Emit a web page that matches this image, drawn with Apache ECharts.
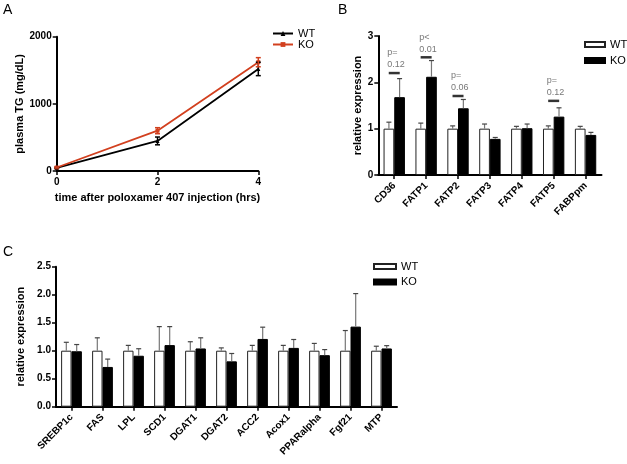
<!DOCTYPE html>
<html><head><meta charset="utf-8">
<script src="https://cdn.jsdelivr.net/npm/echarts@6/dist/echarts.min.js"></script>
<style>html,body{margin:0;padding:0;background:#fff}#c{width:627px;height:464px}</style>
</head><body><div id="c"></div>
<script>
// ---- Panel A data ----
const timeHours = [0, 2, 4];
const tgWT = [45, 448, 1520];
const tgWTErr = [8, 58, 100];
const tgKO = [52, 600, 1620];
const tgKOErr = [8, 45, 68];

// ---- Panel B data ----
const genesB = ['CD36', 'FATP1', 'FATP2', 'FATP3', 'FATP4', 'FATP5', 'FABPpm'];
const bWT = [1, 1, 1, 1, 1, 1, 1];
const bWTErr = [0.14, 0.12, 0.06, 0.10, 0.05, 0.06, 0.05];
const bKO = [1.68, 2.12, 1.44, 0.78, 1.01, 1.26, 0.865];
const bKOErr = [0.40, 0.35, 0.19, 0.03, 0.09, 0.19, 0.055];
const pIndex = [0, 1, 2, 5];
const pHeight = [2.2, 2.54, 1.705, 1.6];
const pText = ['p=\n0.12', 'p<\n0.01', 'p=\n0.06', 'p=\n0.12'];

// ---- Panel C data ----
const genesC = ['SREBP1c', 'FAS', 'LPL', 'SCD1', 'DGAT1', 'DGAT2', 'ACC2', 'Acox1', 'PPARalpha', 'Fgf21', 'MTP'];
const cWT = [1, 1, 1, 1, 1, 1, 1, 1, 1, 1, 1];
const cWTErr = [0.15, 0.23, 0.095, 0.43, 0.16, 0.05, 0.095, 0.095, 0.13, 0.36, 0.08];
const cKO = [0.99, 0.71, 0.91, 1.10, 1.04, 0.81, 1.21, 1.05, 0.92, 1.43, 1.04];
const cKOErr = [0.12, 0.14, 0.125, 0.33, 0.19, 0.14, 0.21, 0.15, 0.10, 0.59, 0.05];

const FONT = "'Liberation Sans', Arial, sans-serif";
const KO_RED = '#d2401f';
const GAP = 0.33;

const axLine = { show: true, lineStyle: { color: '#000', width: 2 } };
const axTick = { show: true, length: 4, lineStyle: { color: '#000', width: 1.5 } };
const axLabel = { color: '#000', fontWeight: 'bold', fontSize: 10, fontFamily: FONT };
const nameStyle = { color: '#000', fontWeight: 'bold', fontSize: 11, fontFamily: FONT };

function lineErr(xs, ys, es, color, name) {
  return {
    type: 'custom', name: name, xAxisIndex: 0, yAxisIndex: 0, z: 4, silent: true,
    data: xs.map((x, i) => [x, ys[i], es[i]]),
    renderItem(params, api) {
      const x = api.value(0), y = api.value(1), e = api.value(2);
      const p1 = api.coord([x, y + e]), p2 = api.coord([x, y - e]);
      const st = { stroke: color, lineWidth: 1.5 };
      return { type: 'group', children: [
        { type: 'line', shape: { x1: p1[0], y1: p1[1], x2: p2[0], y2: p2[1] }, style: st },
        { type: 'line', shape: { x1: p1[0] - 2.5, y1: p1[1], x2: p1[0] + 2.5, y2: p1[1] }, style: st },
        { type: 'line', shape: { x1: p2[0] - 2.5, y1: p2[1], x2: p2[0] + 2.5, y2: p2[1] }, style: st }
      ]};
    }
  };
}

function barErr(vals, errs, side, axisIdx, name) {
  return {
    type: 'custom', name: name, xAxisIndex: axisIdx, yAxisIndex: axisIdx, z: 4, silent: true,
    data: vals.map((v, i) => [i, v, errs[i]]),
    renderItem(params, api) {
      const i = api.value(0), v = api.value(1), e = api.value(2);
      const band = api.size([1, 0])[0];
      const bw = band * (1 - GAP) / 2;
      const cx = api.coord([i, 0])[0] + side * bw / 2;
      const base = api.coord([i, v])[1], top = api.coord([i, v + e])[1];
      return { type: 'group', children: [
        { type: 'line', shape: { x1: cx, y1: base, x2: cx, y2: top }, style: { stroke: '#777', lineWidth: 1.2 } },
        { type: 'line', shape: { x1: cx - 2.5, y1: top, x2: cx + 2.5, y2: top }, style: { stroke: '#444', lineWidth: 1.2 } }
      ]};
    }
  };
}

function barSeries(name, vals, axisIdx, isWT) {
  return {
    type: 'bar', name: name, xAxisIndex: axisIdx, yAxisIndex: axisIdx,
    data: vals, barCategoryGap: (GAP * 100) + '%', barGap: '0%', z: 2,
    itemStyle: isWT ? { color: '#fff', borderColor: '#222', borderWidth: 1 }
                    : { color: '#000', borderColor: '#000', borderWidth: 1 },
    emphasis: { disabled: true }
  };
}

const legendFmt = n => n.split(' ')[0];

const option = {
  animation: false,
  backgroundColor: '#fff',
  textStyle: { fontFamily: FONT },
  title: [
    { text: 'A', left: 3, top: 3, padding: 0, textStyle: { fontSize: 14, fontWeight: 'normal', color: '#000', fontFamily: FONT } },
    { text: 'B', left: 338, top: 3, padding: 0, textStyle: { fontSize: 14, fontWeight: 'normal', color: '#000', fontFamily: FONT } },
    { text: 'C', left: 3, top: 245, padding: 0, textStyle: { fontSize: 14, fontWeight: 'normal', color: '#000', fontFamily: FONT } }
  ],
  legend: [
    { data: ['WT (A)', 'KO (A)'], orient: 'vertical', left: 272, top: 28, padding: 0, itemWidth: 20, itemHeight: 6, itemGap: 0,
      formatter: legendFmt, textStyle: { fontSize: 11, color: '#000', lineHeight: 11, fontFamily: FONT }, selectedMode: false },
    { data: ['WT (B)', 'KO (B)'], orient: 'vertical', left: 584, top: 39, padding: 0, itemWidth: 20, itemHeight: 5, itemGap: 5, icon: 'rect',
      formatter: legendFmt, textStyle: { fontSize: 11, color: '#000', fontFamily: FONT }, selectedMode: false },
    { data: ['WT (C)', 'KO (C)'], orient: 'vertical', left: 373, top: 261, padding: 0, itemWidth: 22, itemHeight: 5, itemGap: 4.5, icon: 'rect',
      formatter: legendFmt, textStyle: { fontSize: 11, color: '#000', fontFamily: FONT }, selectedMode: false }
  ],
  grid: [
    { left: 56.7, top: 36.7, width: 201.6, height: 134.3 },
    { left: 378.3, top: 36, width: 223.2, height: 139 },
    { left: 56, top: 266.7, width: 341, height: 140 }
  ],
  xAxis: [
    { type: 'value', gridIndex: 0, min: 0, max: 4, interval: 2,
      name: 'time after poloxamer 407 injection (hrs)', nameLocation: 'middle', nameGap: 21, nameTextStyle: nameStyle,
      axisLine: axLine, axisTick: axTick, axisLabel: Object.assign({ margin: 6 }, axLabel), splitLine: { show: false } },
    { type: 'category', gridIndex: 1, data: genesB,
      axisLine: axLine, axisTick: Object.assign({ alignWithLabel: true }, axTick),
      axisLabel: Object.assign({ rotate: 45, margin: 9, interval: 0, fontSize: 10.5 }, axLabel) },
    { type: 'category', gridIndex: 2, data: genesC,
      axisLine: axLine, axisTick: Object.assign({ alignWithLabel: true }, axTick),
      axisLabel: Object.assign({ rotate: 45, margin: 9, interval: 0, fontSize: 10.5 }, axLabel) }
  ],
  yAxis: [
    { type: 'value', gridIndex: 0, min: 0, max: 2000, interval: 1000,
      name: 'plasma TG (mg/dL)', nameLocation: 'middle', nameGap: 23, nameTextStyle: nameStyle,
      axisLine: axLine, axisTick: axTick, axisLabel: Object.assign({ margin: 5, formatter: v => String(v) }, axLabel), splitLine: { show: false } },
    { type: 'value', gridIndex: 1, min: 0, max: 3, interval: 1,
      name: 'relative expression', nameLocation: 'middle', nameGap: 15, nameTextStyle: nameStyle,
      axisLine: axLine, axisTick: axTick, axisLabel: Object.assign({ margin: 5 }, axLabel), splitLine: { show: false } },
    { type: 'value', gridIndex: 2, min: 0, max: 2.5, interval: 0.5,
      name: 'relative expression', nameLocation: 'middle', nameGap: 25, nameTextStyle: nameStyle,
      axisLine: axLine, axisTick: axTick,
      axisLabel: Object.assign({ margin: 5, formatter: v => v.toFixed(1) }, axLabel), splitLine: { show: false } }
  ],
  series: [
    { type: 'line', name: 'WT (A)', xAxisIndex: 0, yAxisIndex: 0, data: timeHours.map((t, i) => [t, tgWT[i]]),
      symbol: 'triangle', symbolSize: 4, showSymbol: true, lineStyle: { color: '#000', width: 1.8 }, itemStyle: { color: '#000' }, z: 3 },
    { type: 'line', name: 'KO (A)', xAxisIndex: 0, yAxisIndex: 0, data: timeHours.map((t, i) => [t, tgKO[i]]),
      symbol: 'rect', symbolSize: 4, showSymbol: true, lineStyle: { color: KO_RED, width: 1.8 }, itemStyle: { color: KO_RED }, z: 3 },
    lineErr(timeHours, tgWT, tgWTErr, '#000', 'WT err A'),
    lineErr(timeHours, tgKO, tgKOErr, KO_RED, 'KO err A'),

    barSeries('WT (B)', bWT, 1, true),
    barSeries('KO (B)', bKO, 1, false),
    barErr(bWT, bWTErr, -1, 1, 'WT err B'),
    barErr(bKO, bKOErr, 1, 1, 'KO err B'),
    { type: 'scatter', name: 'p values', xAxisIndex: 1, yAxisIndex: 1, silent: true, z: 5,
      symbol: 'rect', symbolSize: [11, 2.5], itemStyle: { color: '#000' },
      data: pIndex.map((k, i) => ({ value: [k, pHeight[i]], label: { formatter: pText[i] } })),
      label: { show: true, position: 'top', distance: 1, align: 'left', offset: [-7, 0],
        fontSize: 9, lineHeight: 12, color: '#555', fontFamily: FONT } },

    barSeries('WT (C)', cWT, 2, true),
    barSeries('KO (C)', cKO, 2, false),
    barErr(cWT, cWTErr, -1, 2, 'WT err C'),
    barErr(cKO, cKOErr, 1, 2, 'KO err C')
  ]
};

const chart = echarts.init(document.getElementById('c'), null, { renderer: 'canvas' });
chart.setOption(option);
</script>
</body></html>
